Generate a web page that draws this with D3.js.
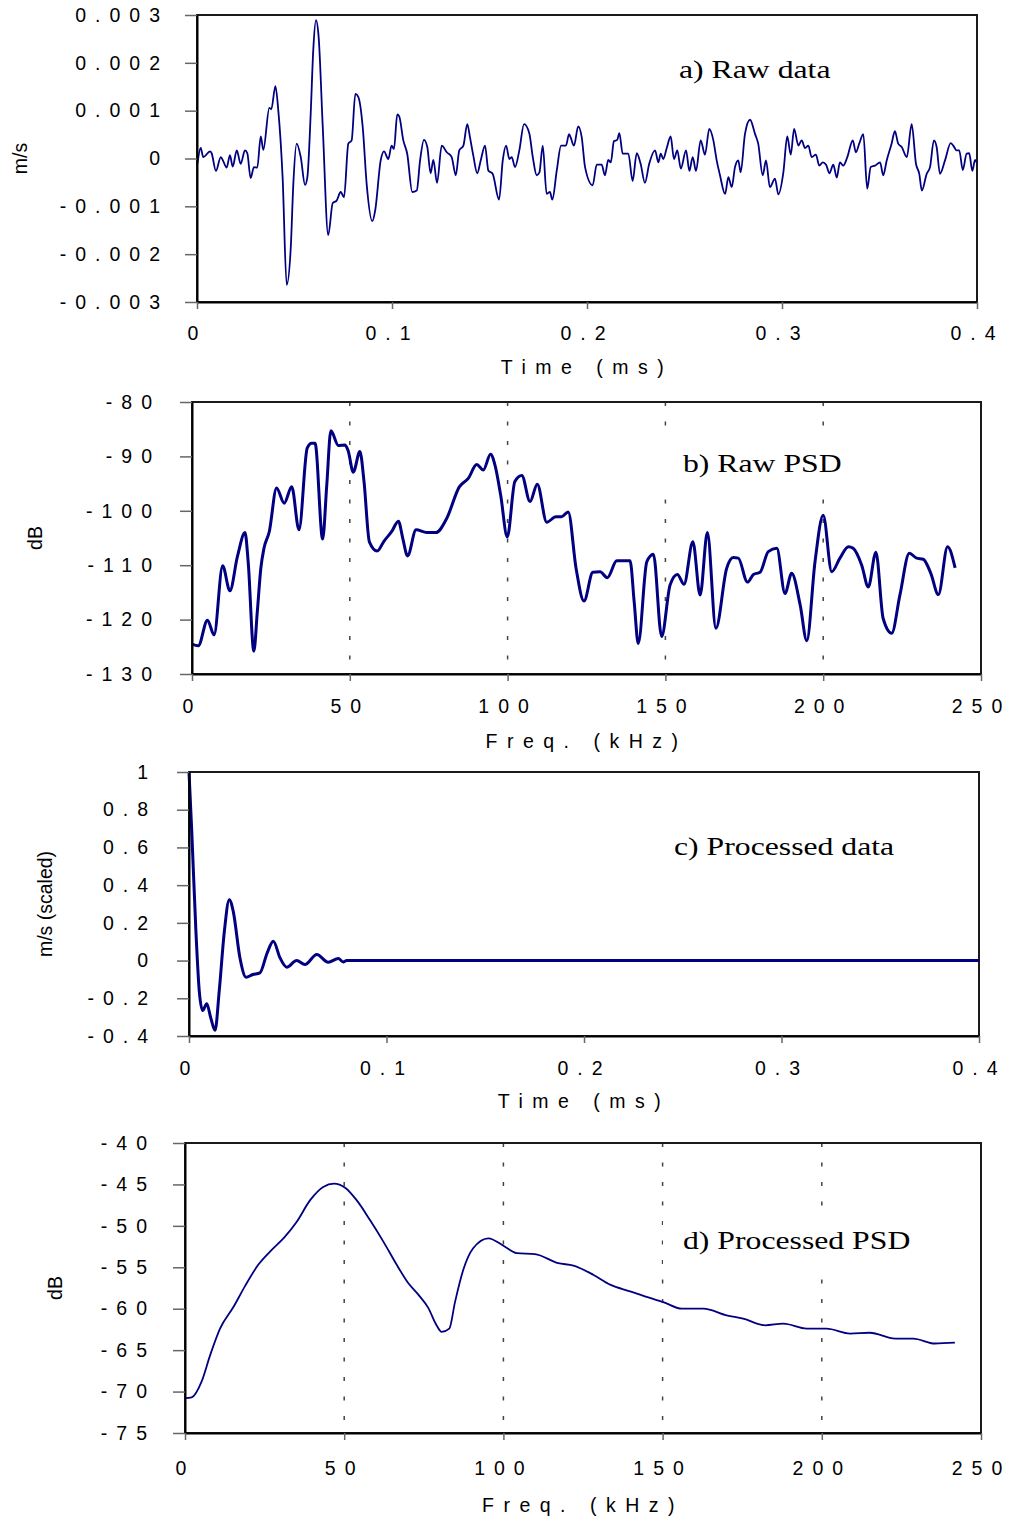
<!DOCTYPE html>
<html>
<head>
<meta charset="utf-8">
<script src="https://cdn.jsdelivr.net/npm/d3@7"></script>
<style>
  body { margin: 0; background: #fff; }
  svg text { font-family: Arial, "Liberation Sans", sans-serif; fill: #000; }
</style>
</head>
<body>
<svg id="chart" width="1012" height="1521"></svg>
<script>
// ---- Data -------------------------------------------------------------
// a) raw velocity record: [time (ms), velocity (m/s)]
const rawSignal = [
  [0.0002,-0.00011],[0.0019,0.00022],[0.0032,0.00003],[0.0067,0.00015],[0.0075,0.00011],
  [0.0097,-0.00026],[0.0122,0.00003],[0.0135,-0.00006],[0.0152,-0.00019],[0.0169,0.00007],
  [0.0183,-0.00017],[0.0204,0.00017],[0.0224,-0.00011],[0.0246,0.00017],[0.0258,0.00011],
  [0.0275,-0.00041],[0.0292,-0.00018],[0.0309,-0.00019],[0.0327,0.00046],[0.0340,0.00018],
  [0.0371,0.00106],[0.0381,0.00103],[0.0402,0.00151],[0.0417,0.00100],[0.0439,-0.00039],
  [0.0460,-0.00264],[0.0481,-0.00185],[0.0494,-0.00053],[0.0511,0.00031],[0.0532,0.00003],
  [0.0554,-0.00055],[0.0566,-0.00039],[0.0583,0.00093],[0.0596,0.00225],[0.0610,0.00289],
  [0.0624,0.00253],[0.0645,0.00065],[0.0673,-0.00160],[0.0696,-0.00093],[0.0716,-0.00088],
  [0.0737,-0.00070],[0.0754,-0.00081],[0.0776,0.00031],[0.0793,0.00038],[0.0812,0.00135],
  [0.0827,0.00129],[0.0850,0.00065],[0.0870,-0.00053],[0.0899,-0.00131],[0.0914,-0.00108],
  [0.0942,-0.00004],[0.0959,0.00015],[0.0981,-0.00001],[0.0998,0.00027],[0.1010,0.00020],
  [0.1027,0.00092],[0.1037,0.00088],[0.1058,0.00038],[0.1078,0.00010],[0.1104,-0.00070],
  [0.1127,-0.00067],[0.1144,-0.00004],[0.1164,0.00039],[0.1181,0.00024],[0.1198,-0.00031],
  [0.1212,-0.00003],[0.1231,-0.00051],[0.1255,0.00027],[0.1281,0.00013],[0.1306,0.00003],
  [0.1327,-0.00035],[0.1345,0.00017],[0.1366,0.00027],[0.1386,0.00072],[0.1400,0.00044],
  [0.1417,0.00006],[0.1437,-0.00031],[0.1455,-0.00004],[0.1477,0.00027],[0.1494,-0.00025],
  [0.1516,-0.00032],[0.1549,-0.00086],[0.1568,-0.00004],[0.1585,0.00027],[0.1602,-0.00001],
  [0.1614,0.00003],[0.1631,-0.00018],[0.1653,0.00017],[0.1677,0.00072],[0.1704,0.00053],
  [0.1722,0.00003],[0.1742,-0.00035],[0.1756,-0.00029],[0.1773,0.00027],[0.1793,-0.00074],
  [0.1810,-0.00070],[0.1822,-0.00086],[0.1845,-0.00025],[0.1867,0.00027],[0.1892,0.00027],
  [0.1908,0.00051],[0.1916,0.00044],[0.1933,0.00027],[0.1955,0.00067],[0.1973,0.00044],
  [0.1990,-0.00018],[0.2029,-0.00056],[0.2050,-0.00013],[0.2075,-0.00013],[0.2092,-0.00035],
  [0.2109,-0.00003],[0.2122,-0.00008],[0.2138,0.00036],[0.2155,0.00039],[0.2166,0.00053],
  [0.2183,0.00010],[0.2212,0.00010],[0.2234,-0.00047],[0.2255,0.00011],[0.2275,-0.00011],
  [0.2297,-0.00051],[0.2319,-0.00011],[0.2349,0.00017],[0.2366,-0.00008],[0.2378,0.00010],
  [0.2391,-0.00001],[0.2409,0.00022],[0.2429,0.00046],[0.2446,-0.00001],[0.2463,0.00017],
  [0.2481,-0.00021],[0.2508,0.00017],[0.2525,-0.00026],[0.2542,0.00003],[0.2559,-0.00026],
  [0.2583,0.00038],[0.2605,0.00008],[0.2627,0.00062],[0.2648,0.00038],[0.2665,-0.00004],
  [0.2682,-0.00035],[0.2708,-0.00074],[0.2725,-0.00039],[0.2742,-0.00060],[0.2759,-0.00018],
  [0.2776,-0.00004],[0.2788,-0.00029],[0.2810,0.00051],[0.2836,0.00081],[0.2862,0.00051],
  [0.2878,0.00031],[0.2901,-0.00035],[0.2918,-0.00004],[0.2938,-0.00060],[0.2964,-0.00042],
  [0.2981,-0.00075],[0.3007,-0.00029],[0.3027,0.00046],[0.3045,0.00008],[0.3062,0.00062],
  [0.3084,0.00027],[0.3101,0.00038],[0.3118,0.00022],[0.3135,0.00027],[0.3152,0.00003],
  [0.3174,0.00008],[0.3191,-0.00015],[0.3209,-0.00008],[0.3226,-0.00013],[0.3243,-0.00031],
  [0.3263,-0.00013],[0.3281,-0.00040],[0.3297,-0.00008],[0.3314,-0.00015],[0.3335,0.00003],
  [0.3363,0.00038],[0.3379,0.00013],[0.3396,0.00031],[0.3417,0.00051],[0.3437,-0.00063],
  [0.3455,-0.00018],[0.3477,-0.00015],[0.3503,-0.00008],[0.3519,-0.00035],[0.3537,-0.00004],
  [0.3562,0.00031],[0.3579,0.00057],[0.3596,0.00031],[0.3614,0.00024],[0.3640,0.00003],
  [0.3665,0.00072],[0.3687,-0.00011],[0.3704,-0.00032],[0.3717,-0.00067],[0.3742,-0.00032],
  [0.3759,-0.00018],[0.3779,0.00038],[0.3793,0.00024],[0.3810,-0.00032],[0.3836,-0.00004],
  [0.3865,0.00032],[0.3878,0.00027],[0.3896,0.00017],[0.3909,0.00017],[0.3927,-0.00024],
  [0.3947,0.00010],[0.3960,0.00011],[0.3976,-0.00026],[0.3990,-0.00003],[0.3998,-0.00008]
];

// b) power spectral density of the raw record: [frequency (kHz), level (dB)]
const rawPsd = [
  [0,-124.5],[2.0,-124.8],[4.9,-120.1],[7.0,-122.8],[9.7,-110.1],[12.0,-114.7],[14.4,-108.4],
  [16.8,-104.0],[17.8,-109.4],[19.6,-125.8],[20.7,-118.5],[21.8,-110.6],[22.8,-106.9],
  [24.5,-103.8],[26.8,-95.8],[29.2,-98.6],[31.6,-95.6],[33.9,-103.5],[36.5,-88.5],[37.9,-87.6],
  [39.0,-87.6],[41.4,-105.2],[42.7,-95.3],[44.0,-85.3],[46.4,-88.0],[48.5,-87.9],[49.5,-89.0],
  [51.1,-92.9],[53.2,-89.1],[54.5,-94.6],[56.2,-105.7],[58.7,-107.4],[60.8,-105.6],
  [63.3,-103.8],[65.4,-101.9],[66.8,-105.1],[68.3,-108.3],[71.0,-103.5],[74.4,-104.0],
  [77.3,-104.0],[80.7,-101.4],[84.7,-95.6],[87.6,-94.0],[90.2,-91.5],[92.3,-92.5],[94.6,-89.6],
  [96.0,-91.6],[97.8,-97.1],[99.9,-104.8],[102.3,-94.6],[104.5,-93.5],[107.1,-98.3],
  [109.4,-95.1],[112.4,-102.1],[115.3,-101.1],[117.1,-101.1],[119.2,-100.2],[121.7,-110.6],
  [124.2,-116.6],[127.0,-111.3],[129.3,-111.2],[131.6,-112.3],[134.6,-109.2],[138.8,-109.2],
  [140.1,-116.7],[141.4,-124.4],[144.1,-109.4],[146.2,-108.0],[148.8,-123.1],[151.5,-113.6],
  [153.8,-111.7],[155.9,-113.5],[158.7,-105.7],[161.0,-115.5],[163.3,-104.0],[166.0,-121.6],
  [169.4,-110.6],[171.5,-108.6],[173.1,-108.7],[176.0,-113.1],[177.9,-111.7],[180.0,-111.3],
  [182.6,-107.5],[185.3,-106.9],[187.9,-115.2],[190.0,-111.5],[192.7,-117.3],[194.8,-123.9],
  [197.4,-109.4],[200.0,-100.8],[202.7,-111.2],[205.3,-108.7],[208.0,-106.6],[209.5,-106.9],
  [212.2,-110.0],[214.3,-114.0],[216.7,-107.6],[219.0,-119.8],[221.7,-122.5],[224.3,-115.5],
  [227.3,-107.8],[229.6,-108.7],[231.7,-108.9],[234.1,-111.5],[236.5,-115.4],[239.4,-106.6],
  [241.8,-110.5]
];

// c) processed (scaled) velocity: [time (ms), scaled velocity]
const processedSignal = [
  [0,1.0],[0.0014,0.684],[0.0035,0.155],[0.0052,-0.162],[0.0069,-0.265],[0.0090,-0.229],
  [0.0110,-0.303],[0.0132,-0.370],[0.0153,-0.162],[0.0179,0.155],[0.0204,0.323],[0.0224,0.261],
  [0.0258,0.014],[0.0289,-0.088],[0.0323,-0.074],[0.0359,-0.065],[0.0396,0.041],[0.0427,0.102],
  [0.0461,0.014],[0.0495,-0.035],[0.0545,0.000],[0.0587,-0.021],[0.0647,0.032],[0.0705,-0.009],
  [0.0756,0.011],[0.0781,-0.007],[0.0798,0],[0.4,0]
];

// d) power spectral density of the processed record: [frequency (kHz), level (dB)]
const processedPsd = [
  [0,-70.8],[2.1,-70.7],[5.2,-68.8],[7.9,-65.6],[11.0,-62.4],[15.2,-59.8],[18.8,-57.3],
  [23.0,-54.7],[26.7,-53.1],[31.4,-51.3],[35.1,-49.5],[39.3,-46.9],[43.4,-45.3],[46.8,-44.9],
  [50.3,-45.4],[53.9,-46.9],[58.1,-49.3],[62.3,-51.9],[66.5,-54.7],[70.1,-56.9],[73.3,-58.3],
  [76.4,-59.9],[79.0,-62.0],[80.6,-62.8],[83.0,-62.4],[84.8,-59.2],[87.4,-55.3],[90.5,-52.7],
  [95.3,-51.5],[100.0,-52.4],[104.2,-53.3],[109.9,-53.4],[117.2,-54.5],[122.0,-54.8],
  [128.2,-55.9],[133.5,-57.1],[139.8,-57.9],[146.0,-58.7],[150.2,-59.2],[156.0,-60.0],
  [162.8,-60.0],[170.1,-60.8],[175.3,-61.2],[182.2,-62.0],[187.9,-61.8],[195.3,-62.4],
  [201.5,-62.4],[208.9,-63.0],[215.1,-62.9],[223.0,-63.6],[228.7,-63.6],[235.5,-64.2],
  [241.8,-64.1]
];

// Tick values
const timeTicks = [0, 0.1, 0.2, 0.3, 0.4];
const freqTicks = [0, 50, 100, 150, 200, 250];
const freqGrid = [50, 100, 150, 200];
const rawVelTicks = [0.003, 0.002, 0.001, 0, -0.001, -0.002, -0.003];
const rawPsdTicks = [-80, -90, -100, -110, -120, -130];
const scaledVelTicks = [1, 0.8, 0.6, 0.4, 0.2, 0, -0.2, -0.4];
const procPsdTicks = [-40, -45, -50, -55, -60, -65, -70, -75];

// Axis titles and panel captions
const timeTitle = "Time (ms)";
const freqTitle = "Freq. (kHz)";
const panelCaptions = ["a) Raw data", "b) Raw PSD", "c) Processed data", "d) Processed PSD"];

// ---- Layout -----------------------------------------------------------
const LINE = "#000080";
const panels = [
  { data: rawSignal, x: [0, 0.4], y: [-0.003, 0.003], xt: timeTicks, yt: rawVelTicks,
    box: [197, 977, 15, 302], xTitle: timeTitle, xTitleY: 374, yTitle: "m/s", yTitleX: 20,
    caption: panelCaptions[0], capX: 679, capY: 78, grid: null, width: 1.8, xPad: 17, yPad: 16 },
  { data: rawPsd, x: [0, 250], y: [-130, -80], xt: freqTicks, yt: rawPsdTicks,
    box: [192, 981, 402, 674], xTitle: freqTitle, xTitleY: 748, yTitle: "dB", yTitleX: 35,
    caption: panelCaptions[1], capX: 683, capY: 472, grid: freqGrid, width: 3, xPad: 18, yPad: 19 },
  { data: processedSignal, x: [0, 0.4], y: [-0.4, 1], xt: timeTicks, yt: scaledVelTicks,
    box: [189, 979, 772, 1036], xTitle: timeTitle, xTitleY: 1108, yTitle: "m/s (scaled)", yTitleX: 45,
    caption: panelCaptions[2], capX: 674, capY: 855, grid: null, width: 3, xPad: 18, yPad: 20 },
  { data: processedPsd, x: [0, 250], y: [-75, -40], xt: freqTicks, yt: procPsdTicks,
    box: [185, 981, 1143, 1433], xTitle: freqTitle, xTitleY: 1512, yTitle: "dB", yTitleX: 55,
    caption: panelCaptions[3], capX: 683, capY: 1249, grid: freqGrid, width: 1.8, xPad: 21, yPad: 17 }
];

const svg = d3.select("#chart");
const TICK_FONT = 19.5, TICK_SPACING = 9;

panels.forEach(p => {
  const [L, R, T, B] = p.box;
  const x = d3.scaleLinear().domain(p.x).range([L, R]);
  const y = d3.scaleLinear().domain(p.y).range([B, T]);
  const g = svg.append("g");

  // dotted frequency guides
  if (p.grid) {
    g.selectAll("line.guide").data(p.grid).join("line")
      .attr("class", "guide")
      .attr("x1", d => x(d)).attr("x2", d => x(d))
      .attr("y1", T).attr("y2", B)
      .attr("stroke", "#444").attr("stroke-width", 1.5)
      .attr("stroke-dasharray", "4,15.5");
  }

  // caption with its white backing box
  const cap = g.append("text")
    .attr("transform", `translate(${p.capX},${p.capY}) scale(1.22,1)`)
    .style("font-family", '"Liberation Serif", "Times New Roman", serif')
    .attr("font-size", 26)
    .text(p.caption);
  const bb = cap.node().getBBox();
  g.insert("rect", "text")
    .attr("x", p.capX + bb.x * 1.22 - 20)
    .attr("y", p.capY + bb.y - 12)
    .attr("width", bb.width * 1.22 + 40)
    .attr("height", bb.height + 24)
    .attr("fill", "#fff");

  // frame
  g.append("rect")
    .attr("x", L).attr("y", T).attr("width", R - L).attr("height", B - T)
    .attr("fill", "none").attr("stroke", "#1a1a1a").attr("stroke-width", 2);

  // data line
  const line = d3.line()
    .x(d => x(d[0])).y(d => y(d[1]))
    .curve(d3.curveMonotoneX);
  g.append("path").datum(p.data)
    .attr("d", line)
    .attr("fill", "none")
    .attr("stroke", LINE)
    .attr("stroke-width", p.width)
    .attr("stroke-linejoin", "round");

  // y axis
  const ya = g.append("g").attr("transform", `translate(${L},0)`)
    .call(d3.axisLeft(y).tickValues(p.yt).tickFormat(d => String(d))
      .tickSize(12).tickSizeOuter(0).tickPadding(p.yPad));
  // x axis
  const xa = g.append("g").attr("transform", `translate(0,${B})`)
    .call(d3.axisBottom(x).tickValues(p.xt).tickFormat(d => String(d))
      .tickSize(7).tickSizeOuter(0).tickPadding(p.xPad));

  [ya, xa].forEach(a => {
    a.select(".domain").attr("stroke", "#000").attr("stroke-width", 2);
    a.selectAll(".tick line").attr("stroke", "#666").attr("stroke-width", 1.5);
    a.selectAll(".tick text")
      .attr("font-family", null).attr("font-size", TICK_FONT)
      .style("letter-spacing", TICK_SPACING + "px").attr("fill", "#000");
  });

  // axis titles
  g.append("text")
    .attr("x", (L + R) / 2).attr("y", p.xTitleY)
    .attr("text-anchor", "middle")
    .attr("font-size", 19.5)
    .style("letter-spacing", "9.5px")
    .text(p.xTitle);
  g.append("text")
    .attr("transform", `translate(${p.yTitleX},${(T + B) / 2}) rotate(-90)`)
    .attr("text-anchor", "middle").attr("dy", "0.35em")
    .attr("font-size", 19.5)
    .text(p.yTitle);
});
</script>
</body>
</html>
